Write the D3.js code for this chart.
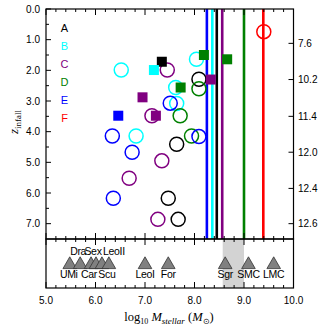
<!DOCTYPE html>
<html><head><meta charset="utf-8">
<script src="https://cdn.jsdelivr.net/npm/d3@7"></script>
<style>body{margin:0;background:#fff}</style>
</head><body><svg id="c" width="330" height="330"></svg>
<script>
// ---- data ----
const groups = ["A","B","C","D","E","F"];
const groupColors = ["#000000","#00ffff","#800080","#008000","#0000ff","#ff0000"];
const lineMass = [8.45, 8.36, 8.56, 9.00, 8.25, 9.39];

const circleGroup = ["A","A","A","A","B","B","B","B","B","C","C","C","C","C","D","D","D","E","E","E","E","E","F"];
const circleMass  = [8.09,7.64,7.47,7.67, 6.52,8.04,7.62,7.64,6.82, 7.45,7.14,7.34,6.68,7.26, 8.09,7.71,7.94, 7.51,6.34,8.09,6.74,6.36, 9.40];
const circleZ     = [2.29,4.41,6.17,6.86, 1.99,1.64,2.56,3.08,4.14, 1.99,3.48,4.95,5.52,6.86, 2.60,3.48,4.14, 3.07,4.14,4.16,4.67,6.17, 0.74];

const squareGroup = ["A","B","C","C","C","D","D","D","E"];
const squareMass  = [7.34,7.18,8.33,6.95,7.22,8.19,8.66,7.72,6.46];
const squareZ     = [1.72,1.99,2.30,2.88,3.48,1.50,1.64,2.56,3.48];

const dwarfNames = ["UMi","Dra","Car","Sex","Scu","LeoII","LeoI","For","Sgr","SMC","LMC"];
const dwarfMass  = [5.48,5.69,5.91,6.01,6.13,6.27,7.00,7.47,8.62,9.09,9.60];
const dwarfLabelSide = ["below","above","below","above","below","above","below","below","below","below","below"];
const sgrBand = [8.57, 9.00];

const zTicks = [0,1,2,3,4,5,6,7];
const zMinor = [0.5,1.5,2.5,3.5,4.5,5.5,6.5];
const lookbackLabels = ["7.6","10.2","11.4","12.0","12.4","12.6"];
const lookbackZ = [1.12,2.30,3.50,4.67,5.85,7.00];
const massTicks = [5,6,7,8,9,10];

// ---- layout ----
const labelNudge = [-1,-2,-2,-3,5,5,0,0,0,0,0]; // px, to mimic crowded label placement
const svg = d3.select("#c");
const L = 46, R = 293.5, T = 9, B1 = 239, B2 = 288;
const x = d3.scaleLinear().domain([5,10]).range([L,R]);
const y = d3.scaleLinear().domain([0,7.5]).range([T,B1]);
const color = d3.scaleOrdinal().domain(groups).range(groupColors);
const sans = "'Liberation Sans', Arial, sans-serif";
const serif = "'Liberation Serif', 'Times New Roman', serif";

// bottom panel band
svg.append("rect").attr("x",x(sgrBand[0])).attr("y",B1).attr("width",x(sgrBand[1])-x(sgrBand[0])).attr("height",B2-B1).attr("fill","#d3d3d3");

// vertical lines
svg.append("g").selectAll("line").data(groups).join("line")
  .attr("x1",(g,i)=>x(lineMass[i])).attr("x2",(g,i)=>x(lineMass[i]))
  .attr("y1",T).attr("y2",B1)
  .attr("stroke",g=>color(g)).attr("stroke-width",2.6);

// circles
svg.append("g").selectAll("circle").data(circleMass).join("circle")
  .attr("cx",d=>x(d)).attr("cy",(d,i)=>y(circleZ[i])).attr("r",7)
  .attr("fill","none").attr("stroke",(d,i)=>color(circleGroup[i])).attr("stroke-width",1.5);

// squares
const S = 10;
svg.append("g").selectAll("rect").data(squareMass).join("rect")
  .attr("x",d=>x(d)-S/2).attr("y",(d,i)=>y(squareZ[i])-S/2).attr("width",S).attr("height",S)
  .attr("fill",(d,i)=>color(squareGroup[i]));

// legend letters
svg.append("g").selectAll("text").data(groups).join("text")
  .attr("x",64.5).attr("y",(g,i)=>28+i*18.1).attr("dy","0.36em")
  .attr("text-anchor","middle").attr("font-family",sans).attr("font-size",11)
  .attr("fill",g=>color(g)).text(g=>g);

// frames
svg.append("rect").attr("x",L).attr("y",T).attr("width",R-L).attr("height",B1-T).attr("fill","none").attr("stroke","#000").attr("stroke-width",1.2);
svg.append("rect").attr("x",L).attr("y",B1).attr("width",R-L).attr("height",B2-B1).attr("fill","none").attr("stroke","#000").attr("stroke-width",1.2);

// x ticks (major 1.0, minor 0.2) on all horizontal edges, pointing inward
const xMinor = d3.range(5.2,10,0.2).filter(v=>Math.abs(v-Math.round(v))>1e-6);
function xTickRow(yPos, dir){
  const g = svg.append("g").attr("stroke","#000").attr("stroke-width",1);
  g.selectAll("line.M").data(massTicks).join("line").attr("x1",d=>x(d)).attr("x2",d=>x(d)).attr("y1",yPos).attr("y2",yPos+dir*6);
  g.selectAll("line.m").data(xMinor).join("line").attr("x1",d=>x(d)).attr("x2",d=>x(d)).attr("y1",yPos).attr("y2",yPos+dir*3);
}
xTickRow(T,1); xTickRow(B1,-1); xTickRow(B1,1); xTickRow(B2,-1);

// x tick labels
svg.append("g").selectAll("text").data(massTicks).join("text")
  .attr("x",d=>x(d)).attr("y",300.5).attr("dy","0.36em").attr("text-anchor","middle")
  .attr("font-family",sans).attr("font-size",10).text(d=>d.toFixed(1));

// left axis
const lg = svg.append("g").attr("stroke","#000").attr("stroke-width",1);
lg.selectAll("line.M").data(zTicks).join("line").attr("x1",L).attr("x2",L+5).attr("y1",d=>y(d)).attr("y2",d=>y(d));
lg.selectAll("line.m").data(zMinor).join("line").attr("x1",L).attr("x2",L+3).attr("y1",d=>y(d)).attr("y2",d=>y(d));
svg.append("g").selectAll("text").data(zTicks).join("text")
  .attr("x",40).attr("y",d=>y(d)).attr("dy","0.36em").attr("text-anchor","end")
  .attr("font-family",sans).attr("font-size",10).text(d=>d.toFixed(1));

// right axis (lookback time)
svg.append("g").attr("stroke","#000").selectAll("line").data(lookbackZ).join("line")
  .attr("x1",R).attr("x2",R-5).attr("y1",d=>y(d)).attr("y2",d=>y(d));
svg.append("g").selectAll("text").data(lookbackLabels).join("text")
  .attr("x",298).attr("y",(d,i)=>y(lookbackZ[i])).attr("dy","0.36em").attr("text-anchor","start")
  .attr("font-family",sans).attr("font-size",10).text(d=>d);

// dwarf triangles
const tri = d3.line();
svg.append("g").selectAll("path").data(dwarfMass).join("path")
  .attr("d",d=>tri([[x(d),256.8],[x(d)+6.8,268.6],[x(d)-6.8,268.6]])+"Z")
  .attr("fill","#808080").attr("stroke","#333").attr("stroke-width",0.8);
svg.append("g").selectAll("text").data(dwarfNames).join("text")
  .attr("x",(d,i)=>x(dwarfMass[i])+labelNudge[i])
  .attr("y",(d,i)=>dwarfLabelSide[i]==="above"?255:277.5)
  .attr("text-anchor","middle").attr("font-family",sans).attr("font-size",10.5)
  .attr("letter-spacing",-0.3)
  .text(d=>d);

// axis titles
const xt = svg.append("text").attr("x",169).attr("y",321).attr("text-anchor","middle")
  .attr("font-family",serif).attr("font-size",12.5);
xt.append("tspan").text("log");
xt.append("tspan").attr("font-size",8).attr("dy",3).text("10");
xt.append("tspan").attr("dy",-3).text(" ");
xt.append("tspan").attr("font-style","italic").text("M");
xt.append("tspan").attr("font-style","italic").attr("font-size",9).attr("dy",3).text("stellar");
xt.append("tspan").attr("dy",-3).text(" (");
xt.append("tspan").attr("font-style","italic").text("M");
xt.append("tspan").attr("font-size",8).attr("dy",3).text("⊙");
xt.append("tspan").attr("dy",-3).text(")");

const yt = svg.append("text").attr("transform","translate(18,122) rotate(-90)").attr("text-anchor","middle")
  .attr("font-family",serif).attr("font-size",13);
yt.append("tspan").attr("font-style","italic").text("z");
yt.append("tspan").attr("font-size",9).attr("dy",3).text("infall");
</script></body></html>
